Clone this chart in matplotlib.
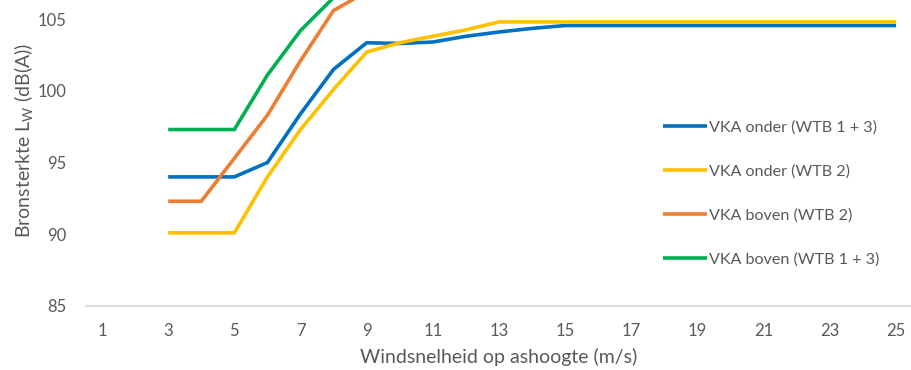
import matplotlib
matplotlib.use("Agg")
import matplotlib.pyplot as plt

plt.rcParams['font.family'] = ['Lato', 'DejaVu Sans']
plt.rcParams['mathtext.fontset'] = 'custom'
plt.rcParams['mathtext.rm'] = 'Lato'
plt.rcParams['mathtext.it'] = 'Lato'

wind = list(range(3, 26))
x_ticks = list(range(1, 26, 2))
y_ticks = [85, 90, 95, 100, 105]

vka_onder_13 = [94.0, 94.0, 94.0, 95.0, 98.4, 101.5, 103.35, 103.3, 103.4, 103.8, 104.1, 104.35,
                104.55, 104.55, 104.55, 104.55, 104.55, 104.55, 104.55, 104.55, 104.55, 104.55, 104.55]
vka_onder_2 = [90.1, 90.1, 90.1, 94.0, 97.3, 100.1, 102.7, 103.35, 103.8, 104.25, 104.8, 104.8,
               104.8, 104.8, 104.8, 104.8, 104.8, 104.8, 104.8, 104.8, 104.8, 104.8, 104.8]
vka_boven_2 = [92.3, 92.3, 95.3, 98.3, 102.1, 105.6, 106.9, 107.3, 107.5, 107.5, 107.5, 107.5,
               107.5, 107.5, 107.5, 107.5, 107.5, 107.5, 107.5, 107.5, 107.5, 107.5, 107.5]
vka_boven_13 = [97.3, 97.3, 97.3, 101.1, 104.2, 106.5, 108.0, 108.5, 108.5, 108.5, 108.5, 108.5,
                108.5, 108.5, 108.5, 108.5, 108.5, 108.5, 108.5, 108.5, 108.5, 108.5, 108.5]

labels = ["VKA onder (WTB 1 + 3)", "VKA onder (WTB 2)", "VKA boven (WTB 2)", "VKA boven (WTB 1 + 3)"]
colors = ["#0070C0", "#FFC000", "#ED7D31", "#00B050"]
series = [vka_onder_13, vka_onder_2, vka_boven_2, vka_boven_13]

W, H = 911, 370
fig = plt.figure(figsize=(W / 100, H / 100), dpi=100)
ax = fig.add_axes([85.5 / W, (H - 306) / H, (912.5 - 85.5) / W, 306 / H])

for vals, c, lab in zip(series, colors, labels):
    ax.plot(wind, vals, color=c, lw=2.6, label=lab, solid_capstyle='butt', solid_joinstyle='miter')

ax.set_xlim(0.5, 25.5)
ax.set_ylim(85, 106.33)
ax.set_xticks(x_ticks)
ax.set_yticks(y_ticks)

txt = "#595959"
for s in ['top', 'right', 'left']:
    ax.spines[s].set_visible(False)
ax.spines['bottom'].set_color('#D9D9D9')
ax.spines['bottom'].set_linewidth(1.3)
ax.tick_params(axis='both', length=0, labelsize=12, colors=txt)
ax.tick_params(axis='x', pad=12)
ax.tick_params(axis='y', pad=14)

ax.set_xlabel("Windsnelheid op ashoogte (m/s)", fontsize=14, color=txt, labelpad=7)
ax.set_ylabel(r"Bronsterkte L$_{\mathrm{W}}$ (dB(A))", fontsize=14, color=txt, labelpad=3)
ax.yaxis.set_label_coords(-0.061, 0.541)

leg = ax.legend(loc='upper left', bbox_to_anchor=(663 / W, (H - 120) / H), bbox_transform=fig.transFigure,
                frameon=False, handlelength=2.75, handletextpad=0.1, labelspacing=1.85,
                fontsize=11.6, borderaxespad=0, borderpad=0)
for t in leg.get_texts():
    t.set_color(txt)

fig.savefig("out.png", dpi=100)
